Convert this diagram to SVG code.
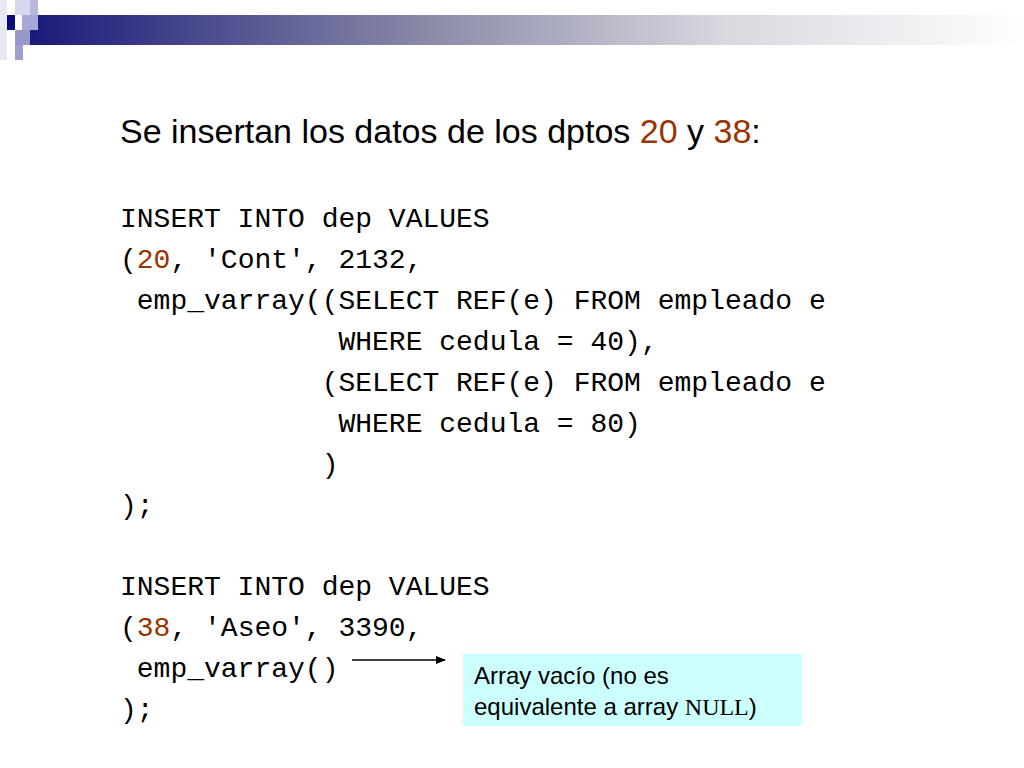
<svg xmlns="http://www.w3.org/2000/svg" width="1024" height="768" viewBox="0 0 1024 768">
<style>
.h{font-family:"Liberation Sans",Arial,sans-serif;font-size:34px;fill:#000}
.c{font-family:"Liberation Mono","Courier New",monospace;font-size:28px;fill:#000;white-space:pre}
.n{fill:#993300}
.b{font-family:"Liberation Sans",Arial,sans-serif;font-size:24px;fill:#000}
</style>
<defs>
<linearGradient id="g" x1="0" x2="1" y1="0" y2="0">
<stop offset="0" stop-color="#1a1a7a"/><stop offset="0.4" stop-color="#8a8aa8"/><stop offset="0.7" stop-color="#d8d8e0"/><stop offset="1" stop-color="#ffffff"/>
</linearGradient>
<marker id="a" markerWidth="10" markerHeight="8" refX="9" refY="4" orient="auto" markerUnits="userSpaceOnUse"><path d="M0,0 L10,4 L0,8 z" fill="#000"/></marker>
</defs>
<g id="deco">
<rect x="30" y="15" width="994" height="30" fill="url(#g)"/>
<rect x="0" y="0" width="7" height="60" fill="#e8e8f4"/>
<rect x="15" y="0" width="15" height="15" fill="#d8d8ec"/>
<rect x="30" y="0" width="8" height="15" fill="#b8b8dc"/>
<rect x="7" y="15" width="8" height="15" fill="#0a0a80"/>
<rect x="22" y="15" width="16" height="15" fill="#a8a8d8"/>
<rect x="15" y="30" width="15" height="15" fill="#9898c8"/>
<rect x="15" y="45" width="8" height="15" fill="#a0a0d0"/>
</g>
<g id="title"><text class="h" x="120" y="143">Se insertan los datos de los dptos <tspan class="n">20</tspan> y <tspan class="n">38</tspan>:</text></g>
<g id="code">
<text class="c" x="120" y="227">INSERT INTO dep VALUES</text>
<text class="c" x="120" y="268">(<tspan class="n">20</tspan>, 'Cont', 2132,</text>
<text class="c" x="120" y="309"> emp_varray((SELECT REF(e) FROM empleado e</text>
<text class="c" x="120" y="350">             WHERE cedula = 40),</text>
<text class="c" x="120" y="391">            (SELECT REF(e) FROM empleado e</text>
<text class="c" x="120" y="432">             WHERE cedula = 80)</text>
<text class="c" x="120" y="473">            )</text>
<text class="c" x="120" y="514">);</text>
<text class="c" x="120" y="595">INSERT INTO dep VALUES</text>
<text class="c" x="120" y="636">(<tspan class="n">38</tspan>, 'Aseo', 3390,</text>
<text class="c" x="120" y="677"> emp_varray()</text>
<text class="c" x="120" y="718">);</text>
</g>
<g id="connectors"><line x1="352" y1="660" x2="445" y2="660" stroke="#000" stroke-width="1.5" marker-end="url(#a)"/></g>
<g id="note">
<rect x="463" y="654" width="339" height="72" fill="#ccffff"/>
<text class="b" x="474" y="684">Array vacío (no es</text>
<text class="b" x="474" y="715">equivalente a array <tspan font-family="Liberation Serif,serif">NULL</tspan>)</text>
</g>
</svg>
